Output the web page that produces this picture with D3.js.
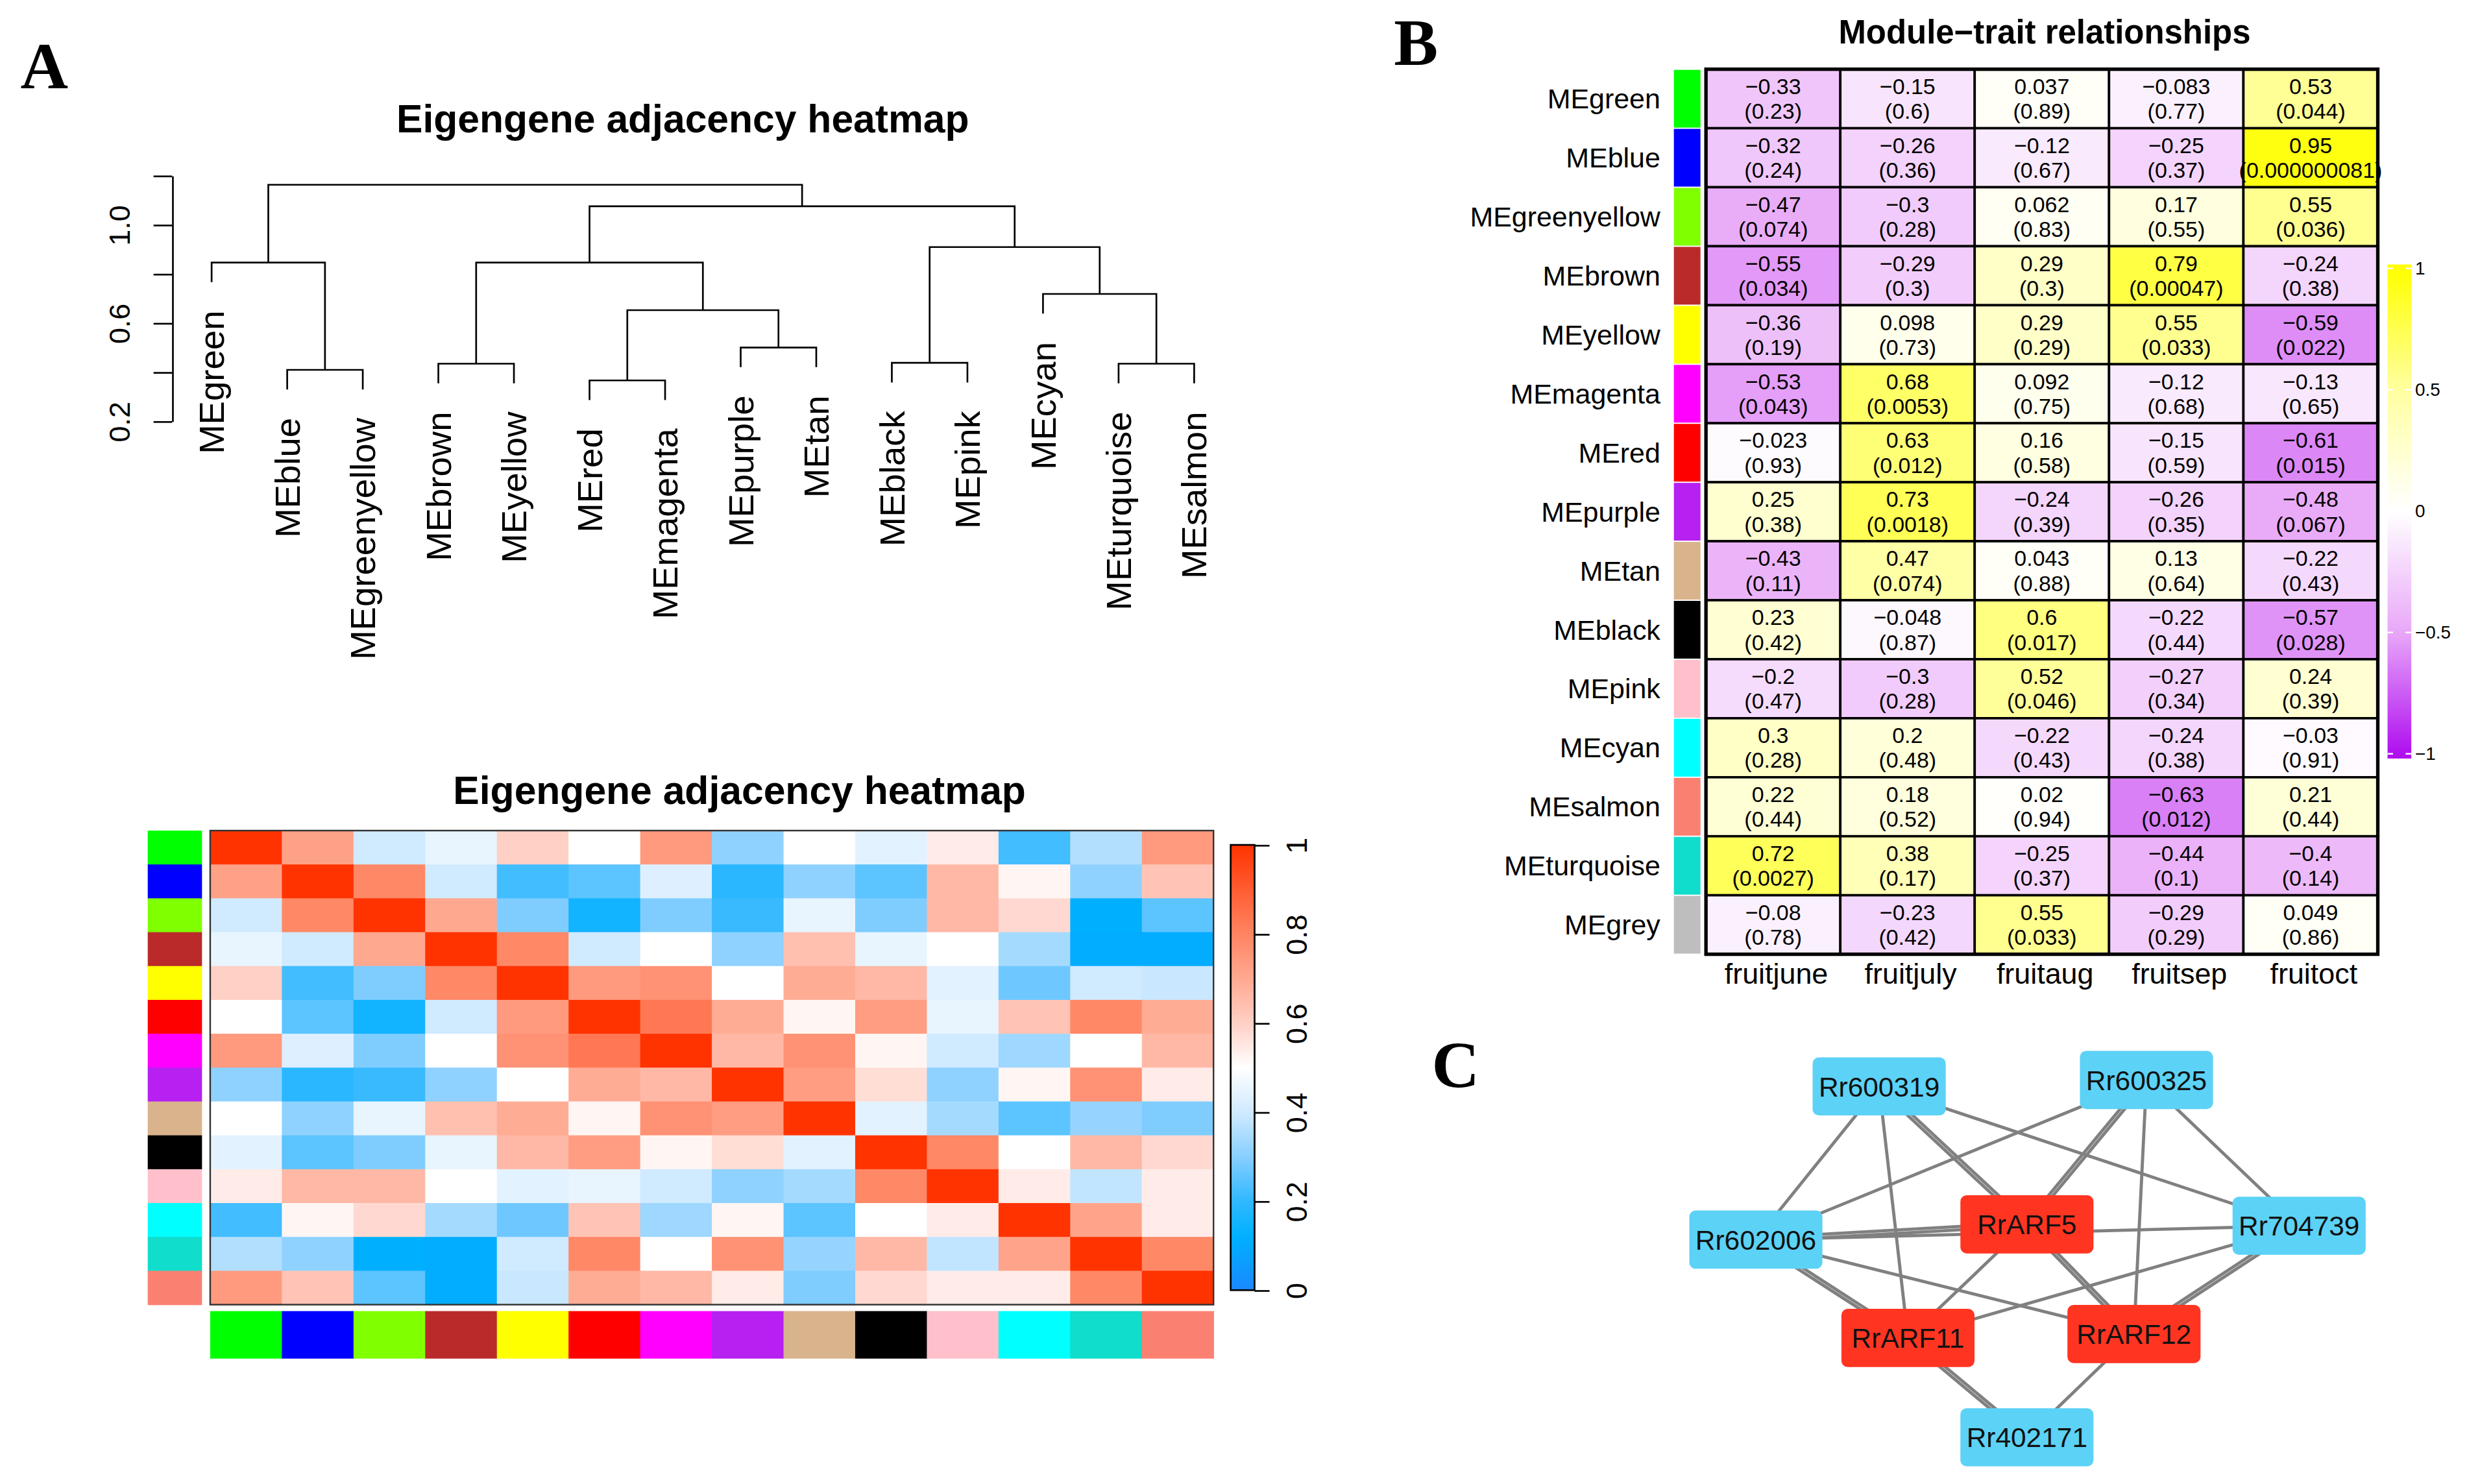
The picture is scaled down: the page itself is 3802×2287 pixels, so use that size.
<!DOCTYPE html>
<html>
<head>
<meta charset="utf-8">
<script src="https://cdn.jsdelivr.net/npm/d3@7"></script>
<style>
  html, body { margin: 0; padding: 0; background: #fff; }
  svg { display: block; }
  text { font-family: "Liberation Sans", Arial, Helvetica, sans-serif; }
  text.panel { font-family: "Liberation Serif", "Times New Roman", serif; }
</style>
</head>
<body>
<div id="chart"></div>
<script>
const W = 3802, H = 2287;
const VW = 1568, VH = 943; // drawing units, scaled up to W x H

// ---------- data: panel A ----------
const dendroLeaves = ["MEgreen", "MEblue", "MEgreenyellow", "MEbrown", "MEyellow", "MEred", "MEmagenta",
  "MEpurple", "MEtan", "MEblack", "MEpink", "MEcyan", "MEturquoise", "MEsalmon"];
// hclust style merges: negative = leaf (1-based), positive = earlier merge
const dendroMerges = [[-2, -3], [-6, -7], [-4, -5], [-13, -14], [-10, -11], [-8, -9], [2, 6],
  [-12, 4], [-1, 1], [3, 7], [5, 8], [10, 11], [9, 12]];
const dendroHeights = [0.409, 0.366, 0.434, 0.434, 0.4375, 0.5, 0.652, 0.718, 0.846, 0.846, 0.909, 1.075, 1.1625];
const dendroTicks = [0.2, 0.4, 0.6, 0.8, 1.0, 1.2];
const dendroTickLabels = ["0.2", "", "0.6", "", "1.0", ""];

const moduleColors = ["#00FF00", "#0000FF", "#80FF00", "#BB2A2A", "#FFFF00", "#FF0000", "#FF00FF",
  "#B620F0", "#D9B38C", "#000000", "#FFC0CB", "#00FFFF", "#10DDCC", "#FA8072"];

const adjacency = [
  [1, .72, .40, .45, .60, .50, .74, .31, .50, .44, .54, .22, .36, .74],
  [.72, 1, .79, .40, .22, .25, .43, .19, .31, .25, .66, .52, .31, .63],
  [.40, .79, 1, .70, .29, .15, .29, .21, .45, .29, .66, .58, .12, .25],
  [.45, .40, .70, 1, .79, .40, .50, .31, .64, .45, .50, .34, .11, .11],
  [.60, .22, .29, .79, 1, .74, .76, .50, .69, .66, .44, .27, .40, .39],
  [.50, .25, .15, .40, .74, 1, .83, .69, .52, .73, .45, .63, .79, .69],
  [.74, .43, .29, .50, .76, .83, 1, .66, .76, .52, .40, .33, .50, .66],
  [.31, .19, .21, .31, .50, .69, .66, 1, .73, .57, .31, .52, .76, .54],
  [.50, .31, .45, .64, .69, .52, .76, .73, 1, .44, .34, .25, .32, .29],
  [.44, .25, .29, .45, .66, .73, .52, .57, .44, 1, .79, .50, .66, .58],
  [.54, .66, .66, .50, .44, .45, .40, .31, .34, .79, 1, .54, .38, .54],
  [.22, .52, .58, .34, .27, .63, .33, .52, .25, .50, .54, 1, .71, .54],
  [.36, .31, .12, .11, .40, .79, .50, .76, .32, .66, .38, .71, 1, .79],
  [.74, .63, .25, .11, .39, .69, .66, .54, .29, .58, .54, .54, .79, 1]
];
const adjTicks = [0, 0.2, 0.4, 0.6, 0.8, 1];

// ---------- data: panel B ----------
const traitRows = ["MEgreen", "MEblue", "MEgreenyellow", "MEbrown", "MEyellow", "MEmagenta", "MEred", "MEpurple",
  "MEtan", "MEblack", "MEpink", "MEcyan", "MEsalmon", "MEturquoise", "MEgrey"];
const traitRowColors = ["#00FF00", "#0000FF", "#80FF00", "#BB2A2A", "#FFFF00", "#FF00FF", "#FF0000", "#B620F0",
  "#D9B38C", "#000000", "#FFC0CB", "#00FFFF", "#FA8072", "#10DDCC", "#BEBEBE"];
const traitCols = ["fruitjune", "fruitjuly", "fruitaug", "fruitsep", "fruitoct"];
const traitCor = [
  [-0.33, -0.15, 0.037, -0.083, 0.53],
  [-0.32, -0.26, -0.12, -0.25, 0.95],
  [-0.47, -0.3, 0.062, 0.17, 0.55],
  [-0.55, -0.29, 0.29, 0.79, -0.24],
  [-0.36, 0.098, 0.29, 0.55, -0.59],
  [-0.53, 0.68, 0.092, -0.12, -0.13],
  [-0.023, 0.63, 0.16, -0.15, -0.61],
  [0.25, 0.73, -0.24, -0.26, -0.48],
  [-0.43, 0.47, 0.043, 0.13, -0.22],
  [0.23, -0.048, 0.6, -0.22, -0.57],
  [-0.2, -0.3, 0.52, -0.27, 0.24],
  [0.3, 0.2, -0.22, -0.24, -0.03],
  [0.22, 0.18, 0.02, -0.63, 0.21],
  [0.72, 0.38, -0.25, -0.44, -0.4],
  [-0.08, -0.23, 0.55, -0.29, 0.049]
];
const traitP = [
  [0.23, 0.6, 0.89, 0.77, 0.044],
  [0.24, 0.36, 0.67, 0.37, 0.000000081],
  [0.074, 0.28, 0.83, 0.55, 0.036],
  [0.034, 0.3, 0.3, 0.00047, 0.38],
  [0.19, 0.73, 0.29, 0.033, 0.022],
  [0.043, 0.0053, 0.75, 0.68, 0.65],
  [0.93, 0.012, 0.58, 0.59, 0.015],
  [0.38, 0.0018, 0.39, 0.35, 0.067],
  [0.11, 0.074, 0.88, 0.64, 0.43],
  [0.42, 0.87, 0.017, 0.44, 0.028],
  [0.47, 0.28, 0.046, 0.34, 0.39],
  [0.28, 0.48, 0.43, 0.38, 0.91],
  [0.44, 0.52, 0.94, 0.012, 0.44],
  [0.0027, 0.17, 0.37, 0.1, 0.14],
  [0.78, 0.42, 0.033, 0.29, 0.86]
];
const corTicks = [-1, -0.5, 0, 0.5, 1];

// ---------- data: panel C ----------
const netNodes = [
  { id: "Rr600319", type: "gene", lx: 22.7, ly: 1.8 },
  { id: "Rr600325", type: "gene", lx: 71.9, ly: 0 },
  { id: "Rr602006", type: "gene", lx: 0, ly: 44.7 },
  { id: "RrARF5", type: "arf", lx: 49.9, ly: 40.4 },
  { id: "Rr704739", type: "gene", lx: 100, ly: 40.8 },
  { id: "RrARF11", type: "arf", lx: 28.0, ly: 72.2 },
  { id: "RrARF12", type: "arf", lx: 69.6, ly: 71.1 },
  { id: "Rr402171", type: "gene", lx: 49.9, ly: 100 }
];
// [source, target, number of parallel edges]
const netEdges = [
  ["Rr600319", "Rr602006", 1], ["Rr600319", "RrARF11", 1], ["Rr600319", "RrARF5", 2], ["Rr600319", "Rr704739", 1],
  ["Rr600325", "Rr602006", 1], ["Rr600325", "RrARF5", 2], ["Rr600325", "RrARF12", 1], ["Rr600325", "Rr704739", 1],
  ["Rr602006", "RrARF5", 2], ["Rr602006", "Rr704739", 1], ["Rr602006", "RrARF11", 2], ["Rr602006", "RrARF12", 1],
  ["RrARF5", "RrARF11", 1], ["RrARF5", "RrARF12", 2], ["Rr704739", "RrARF11", 1], ["Rr704739", "RrARF12", 2],
  ["RrARF11", "Rr402171", 2], ["RrARF12", "Rr402171", 1]
];

// ---------- setup ----------
const svg = d3.select("#chart").append("svg")
  .attr("width", W).attr("height", H)
  .attr("viewBox", `0 0 ${VW} ${VH}`);
svg.append("rect").attr("width", VW).attr("height", VH).attr("fill", "#fff");
const defs = svg.append("defs");

[["A", 13, 56], ["B", 886, 41], ["C", 910, 691]].forEach(([t, x, y]) => {
  svg.append("text").attr("class", "panel").attr("x", x).attr("y", y).text(t)
    .attr("font-weight", "bold").attr("font-size", 42);
});

// ---------- A: dendrogram ----------
const gDen = svg.append("g");
gDen.append("text").attr("x", 434).attr("y", 84).attr("text-anchor", "middle")
  .attr("font-weight", "bold").attr("font-size", 25).text("Eigengene adjacency heatmap");

const denX = d3.scalePoint().domain(dendroLeaves).range([134.5, 759]);
const denY = d3.scaleLinear().domain([0.2, 1.2]).range([267.6, 111.5]);
const HANG = 0.08;
const mergePos = [];
const leafBottom = {};
dendroMerges.forEach((m, i) => {
  const h = dendroHeights[i];
  const kids = m.map(r => {
    if (r < 0) {
      const name = dendroLeaves[-r - 1];
      leafBottom[name] = h - HANG;
      return { x: denX(name), h: h - HANG };
    }
    return mergePos[r - 1];
  });
  gDen.append("path")
    .attr("d", `M${kids[0].x},${denY(kids[0].h)}V${denY(h)}H${kids[1].x}V${denY(kids[1].h)}`)
    .attr("fill", "none").attr("stroke", "#000").attr("stroke-width", 1.1);
  mergePos.push({ x: (kids[0].x + kids[1].x) / 2, h });
});

gDen.selectAll("text.leaf").data(dendroLeaves).join("text")
  .attr("class", "leaf")
  .attr("transform", d => `translate(${denX(d)},${denY(leafBottom[d]) + 18}) rotate(-90)`)
  .attr("dy", "0.35em").attr("text-anchor", "end").attr("font-size", 22.5).text(d => d);

const denAxis = gDen.append("g").attr("transform", "translate(109.4,0)")
  .call(d3.axisLeft(denY).tickValues(dendroTicks).tickSize(11.8).tickSizeOuter(0)
    .tickFormat((d, i) => dendroTickLabels[i]));
denAxis.attr("font-family", null).attr("font-size", null);
denAxis.selectAll("path, line").attr("stroke-width", 1.1);
denAxis.selectAll(".tick text").attr("x", 0).attr("dy", 0)
  .attr("transform", "translate(-27,0) rotate(-90)").attr("text-anchor", "middle")
  .attr("font-size", 18.5).attr("fill", "#000");

// ---------- A: adjacency heatmap ----------
const gHm = svg.append("g");
gHm.append("text").attr("x", 470).attr("y", 511).attr("text-anchor", "middle")
  .attr("font-weight", "bold").attr("font-size", 25).text("Eigengene adjacency heatmap");

const adjColor = d3.scaleLinear()
  .domain([0, 0.12, 0.2, 0.3, 0.4, 0.5, 0.6, 0.7, 0.8, 1])
  .range(["#1A88FF", "#00B0FF", "#30B8FF", "#88CFFF", "#D0EAFF", "#FFFFFF", "#FFD0C5", "#FFA890", "#FF8462", "#FF3300"])
  .interpolate(d3.interpolateRgb);
const hmX = d3.scaleBand().domain(d3.range(dendroLeaves.length)).range([133.6, 771.3]);
const hmY = d3.scaleBand().domain(d3.range(dendroLeaves.length)).range([527.8, 829.1]);

const cells = [];
adjacency.forEach((row, i) => row.forEach((v, j) => cells.push({ i, j, v })));
gHm.selectAll("rect.cell").data(cells).join("rect")
  .attr("class", "cell")
  .attr("x", d => hmX(d.j)).attr("y", d => hmY(d.i))
  .attr("width", hmX.bandwidth() + 0.3).attr("height", hmY.bandwidth() + 0.3)
  .attr("fill", d => adjColor(d.v));
gHm.append("rect").attr("x", 133.6).attr("y", 527.8).attr("width", 771.3 - 133.6).attr("height", 829.1 - 527.8)
  .attr("fill", "none").attr("stroke", "#333").attr("stroke-width", 1);

gHm.selectAll("rect.lstrip").data(moduleColors).join("rect")
  .attr("class", "lstrip")
  .attr("x", 93.9).attr("y", (d, i) => hmY(i)).attr("width", 34.5).attr("height", hmY.bandwidth() + 0.3)
  .attr("fill", d => d);
gHm.selectAll("rect.bstrip").data(moduleColors).join("rect")
  .attr("class", "bstrip")
  .attr("x", (d, i) => hmX(i)).attr("y", 833.2).attr("width", hmX.bandwidth() + 0.3).attr("height", 30.2)
  .attr("fill", d => d);

// legend A
const legAY = d3.scaleLinear().domain([0, 1]).range([819.9, 536.9]);
const gradA = defs.append("linearGradient").attr("id", "gradA")
  .attr("gradientUnits", "userSpaceOnUse").attr("x1", 0).attr("x2", 0)
  .attr("y1", legAY(0)).attr("y2", legAY(1));
gradA.selectAll("stop").data(d3.range(0, 1.0001, 0.02)).join("stop")
  .attr("offset", d => d).attr("stop-color", d => adjColor(d));
gHm.append("rect").attr("x", 782.2).attr("y", legAY(1)).attr("width", 15.2).attr("height", legAY(0) - legAY(1))
  .attr("fill", "url(#gradA)").attr("stroke", "#000").attr("stroke-width", 1.1);
const legAAxis = gHm.append("g").attr("transform", "translate(797.4,0)")
  .call(d3.axisRight(legAY).tickValues(adjTicks).tickSize(9.5).tickSizeOuter(0).tickFormat(d3.format("")));
legAAxis.attr("font-family", null).attr("font-size", null);
legAAxis.select(".domain").remove();
legAAxis.selectAll("line").attr("stroke-width", 1.1);
legAAxis.selectAll(".tick text").attr("x", 0).attr("dy", 0)
  .attr("transform", "translate(33,0) rotate(-90)").attr("text-anchor", "middle")
  .attr("font-size", 18.5).attr("fill", "#000");

// ---------- B: module-trait heatmap ----------
const gB = svg.append("g");
gB.append("text").attr("x", 1299.5).attr("y", 27.5).attr("text-anchor", "middle")
  .attr("font-weight", "bold").attr("font-size", 21).text("Module\u2212trait relationships");

const corColor = d3.scaleLinear().domain([-1, -0.5, 0, 0.5, 1])
  .range(["#B010F0", "#E8A8F8", "#FFFFFF", "#FFFFA0", "#FFFF00"]);
const tX = d3.scaleBand().domain(traitCols).range([1084.3, 1511.3]);
const tY = d3.scaleBand().domain(traitRows).range([43.9, 606.4]);

const fmt = v => {
  let s = Math.abs(v).toFixed(12).replace(/0+$/, "").replace(/\.$/, "");
  return (v < 0 ? "\u2212" : "") + s;
};
const tCells = [];
traitRows.forEach((r, i) => traitCols.forEach((c, j) =>
  tCells.push({ r, c, cor: traitCor[i][j], p: traitP[i][j] })));

gB.selectAll("rect.tcell").data(tCells).join("rect")
  .attr("class", "tcell")
  .attr("x", d => tX(d.c)).attr("y", d => tY(d.r))
  .attr("width", tX.bandwidth()).attr("height", tY.bandwidth())
  .attr("fill", d => corColor(d.cor)).attr("stroke", "#000").attr("stroke-width", 1.5);
gB.append("rect").attr("x", 1084.3).attr("y", 43.9).attr("width", 1511.3 - 1084.3).attr("height", 606.4 - 43.9)
  .attr("fill", "none").attr("stroke", "#000").attr("stroke-width", 2.2);

const cellText = gB.selectAll("g.ctext").data(tCells).join("g")
  .attr("class", "ctext")
  .attr("transform", d => `translate(${tX(d.c) + tX.bandwidth() / 2},${tY(d.r) + tY.bandwidth() / 2})`);
cellText.append("text").attr("y", -3).attr("text-anchor", "middle").attr("font-size", 14)
  .text(d => fmt(d.cor));
cellText.append("text").attr("y", 12.8).attr("text-anchor", "middle").attr("font-size", 14)
  .text(d => `(${fmt(d.p)})`);

gB.selectAll("rect.tstrip").data(traitRows).join("rect")
  .attr("class", "tstrip")
  .attr("x", 1063.9).attr("y", d => tY(d) + 0.4).attr("width", 16.9).attr("height", tY.bandwidth() - 0.8)
  .attr("fill", (d, i) => traitRowColors[i]);

gB.selectAll("text.rlab").data(traitRows).join("text")
  .attr("class", "rlab")
  .attr("x", 1055.3).attr("y", d => tY(d) + tY.bandwidth() / 2).attr("dy", "0.35em")
  .attr("text-anchor", "end").attr("font-size", 17.7).text(d => d);

gB.selectAll("text.clab").data(traitCols).join("text")
  .attr("class", "clab")
  .attr("x", d => tX(d) + tX.bandwidth() / 2 + 2).attr("y", 625)
  .attr("text-anchor", "middle").attr("font-size", 18.5).text(d => d);

// legend B
const legBY = d3.scaleLinear().domain([-1, 1]).range([479, 170.5]);
const gradB = defs.append("linearGradient").attr("id", "gradB")
  .attr("gradientUnits", "userSpaceOnUse").attr("x1", 0).attr("x2", 0)
  .attr("y1", legBY(-1)).attr("y2", legBY(1));
gradB.selectAll("stop").data(d3.range(-1, 1.0001, 0.04)).join("stop")
  .attr("offset", d => (d + 1) / 2).attr("stop-color", d => corColor(d));
gB.append("rect").attr("x", 1517.5).attr("y", 168).attr("width", 15.1).attr("height", 482 - 168)
  .attr("fill", "url(#gradB)");
const legBTicks = gB.selectAll("g.btick").data(corTicks).join("g")
  .attr("class", "btick").attr("transform", d => `translate(0,${legBY(d)})`);
legBTicks.append("line").attr("x1", 1517.5).attr("x2", 1521).attr("stroke", "#fff").attr("stroke-width", 1);
legBTicks.append("line").attr("x1", 1529).attr("x2", 1532.6).attr("stroke", "#fff").attr("stroke-width", 1);
legBTicks.append("text").attr("x", 1535).attr("dy", "0.35em").attr("font-size", 11.5)
  .text(d => fmt(d));

// ---------- C: network ----------
const gC = svg.append("g");
const netX = d3.scaleLinear().domain([0, 100]).range([1116, 1461.3]);
const netY = d3.scaleLinear().domain([0, 100]).range([686.3, 913.4]);
const nodeById = new Map(netNodes.map(n => [n.id, n]));
const NODE_W = 84.6, NODE_H = 37;

const edgeLines = [];
netEdges.forEach(([s, t, k]) => {
  const a = nodeById.get(s), b = nodeById.get(t);
  const x1 = netX(a.lx), y1 = netY(a.ly), x2 = netX(b.lx), y2 = netY(b.ly);
  const len = Math.hypot(x2 - x1, y2 - y1);
  const nx = -(y2 - y1) / len, ny = (x2 - x1) / len;
  for (let q = 0; q < k; q++) {
    const off = k === 1 ? 0 : (q - (k - 1) / 2) * 2.2;
    edgeLines.push({ x1: x1 + nx * off, y1: y1 + ny * off, x2: x2 + nx * off, y2: y2 + ny * off });
  }
});
gC.selectAll("line.edge").data(edgeLines).join("line")
  .attr("class", "edge")
  .attr("x1", d => d.x1).attr("y1", d => d.y1).attr("x2", d => d.x2).attr("y2", d => d.y2)
  .attr("stroke", "#808080").attr("stroke-width", 2);

const nodeG = gC.selectAll("g.node").data(netNodes).join("g")
  .attr("class", "node")
  .attr("transform", d => `translate(${netX(d.lx)},${netY(d.ly)})`);
nodeG.append("rect")
  .attr("x", -NODE_W / 2).attr("y", -NODE_H / 2).attr("width", NODE_W).attr("height", NODE_H)
  .attr("rx", 4).attr("fill", d => d.type === "arf" ? "#FF3522" : "#5CD2F6");
nodeG.append("text").attr("text-anchor", "middle").attr("dy", "0.36em").attr("font-size", 17.5)
  .attr("fill", "#111").text(d => d.id);
</script>
</body>
</html>
